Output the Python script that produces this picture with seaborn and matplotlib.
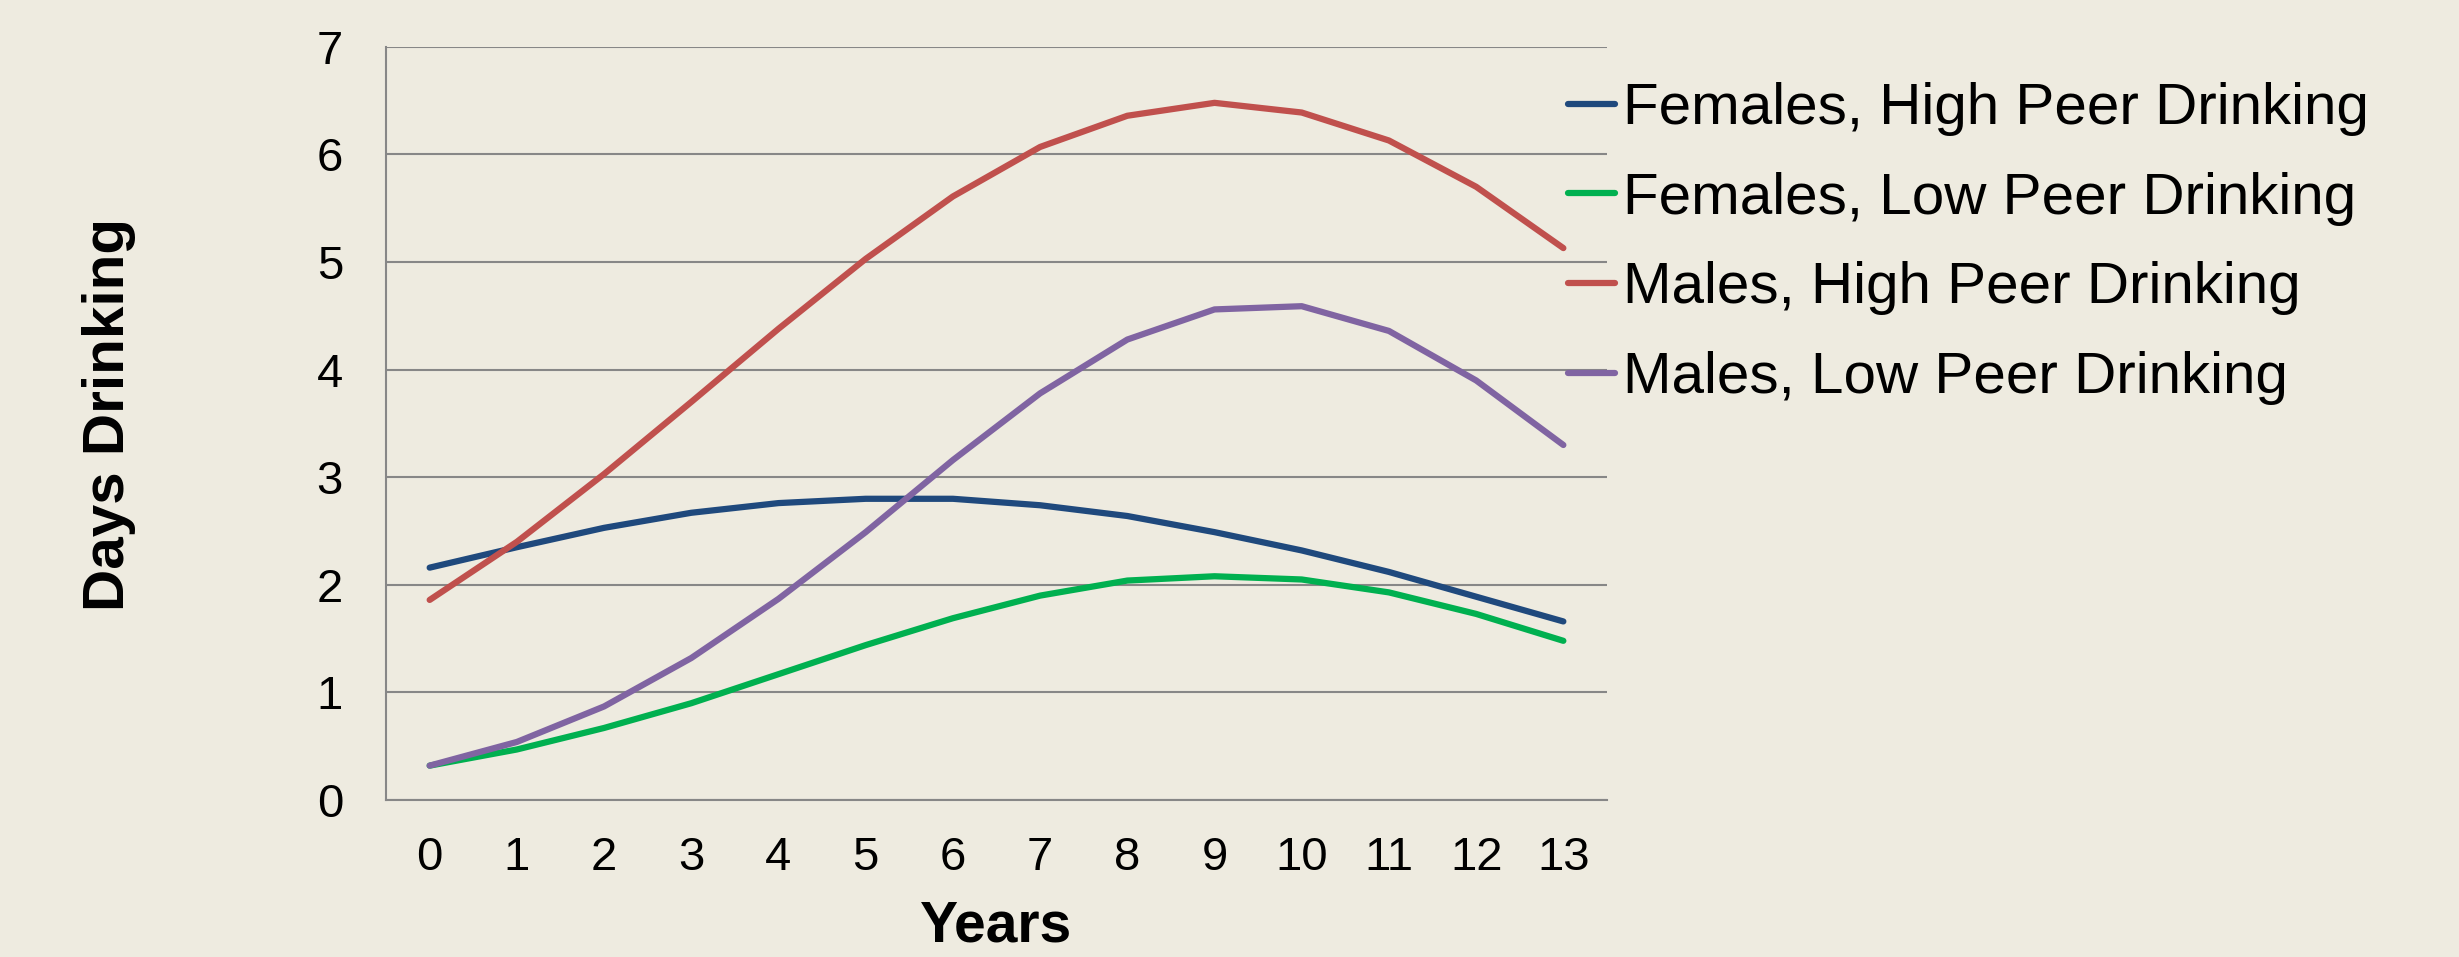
import matplotlib
matplotlib.use("Agg")
import matplotlib.pyplot as plt
import seaborn as sns
import pandas as pd

# Mean days drinking per period, by sex and peer drinking level
years = list(range(14))
females_high = [2.16, 2.35, 2.53, 2.67, 2.76, 2.80, 2.80, 2.74, 2.64, 2.49, 2.32, 2.12, 1.89, 1.66]
females_low = [0.32, 0.47, 0.67, 0.90, 1.17, 1.44, 1.69, 1.90, 2.04, 2.08, 2.05, 1.93, 1.73, 1.48]
males_high = [1.86, 2.40, 3.03, 3.70, 4.38, 5.03, 5.61, 6.07, 6.36, 6.48, 6.39, 6.13, 5.70, 5.13]
males_low = [0.32, 0.54, 0.87, 1.32, 1.87, 2.49, 3.16, 3.78, 4.28, 4.56, 4.59, 4.36, 3.90, 3.30]

series_names = [
    "Females, High Peer Drinking",
    "Females, Low Peer Drinking",
    "Males, High Peer Drinking",
    "Males, Low Peer Drinking",
]
series_values = [females_high, females_low, males_high, males_low]
colors = ["#1F497D", "#00B050", "#C0504D", "#8064A2"]
y_ticks = [0, 1, 2, 3, 4, 5, 6, 7]

rows = []
for name, vals in zip(series_names, series_values):
    for yr, v in zip(years, vals):
        rows.append({"Years": yr, "Days Drinking": v, "Group": name})
df = pd.DataFrame(rows)

bg = "#EEEBE0"
grid_col = "#878787"
line_w = 4.5
sns.set_theme(style="white")
plt.rcParams["font.family"] = ["Liberation Sans", "DejaVu Sans"]
plt.rcParams["text.color"] = "black"
plt.rcParams["axes.labelcolor"] = "black"
plt.rcParams["xtick.color"] = "black"
plt.rcParams["ytick.color"] = "black"

fig = plt.figure(figsize=(24.59, 9.57), dpi=100, facecolor=bg)
ax = fig.add_axes([0.157, 0.164, 0.4965, 0.787])
ax.set_facecolor(bg)

sns.lineplot(
    data=df, x="Years", y="Days Drinking", hue="Group",
    hue_order=series_names, palette=colors, linewidth=line_w,
    ax=ax, legend=True,
)
for line in ax.get_lines():
    line.set_solid_capstyle("round")
    line.set_solid_joinstyle("round")

ax.set_xlim(-0.5, 13.5)
ax.set_ylim(0, 7)
ax.set_xticks(years)
ax.set_yticks(y_ticks)
ax.tick_params(axis="both", length=0, labelsize=34, colors="black")
ax.tick_params(axis="x", pad=26)
ax.tick_params(axis="y", pad=31)
ax.yaxis.grid(True, color=grid_col, linewidth=1.5)
ax.xaxis.grid(False)
ax.set_axisbelow(True)

for side in ["top", "right"]:
    ax.spines[side].set_visible(False)
for side in ["left", "bottom"]:
    ax.spines[side].set_color(grid_col)
    ax.spines[side].set_linewidth(1.5)

ax.set_xlabel("Years", fontsize=41, fontweight="bold", labelpad=14)
ax.set_ylabel("Days Drinking", fontsize=42, fontweight="bold")
ax.yaxis.set_label_coords(-0.205, 0.512)

handles, labels = ax.get_legend_handles_labels()
for h in handles:
    h.set_linewidth(line_w)
    h.set_solid_capstyle("round")
ax.legend(
    handles, labels, loc="upper left", bbox_to_anchor=(0.968, 0.953),
    frameon=False, fontsize=42, handlelength=0.8, handletextpad=0.14,
    labelspacing=0.61, borderaxespad=0, borderpad=0,
)

fig.savefig("out.png", dpi=100, facecolor=bg)
